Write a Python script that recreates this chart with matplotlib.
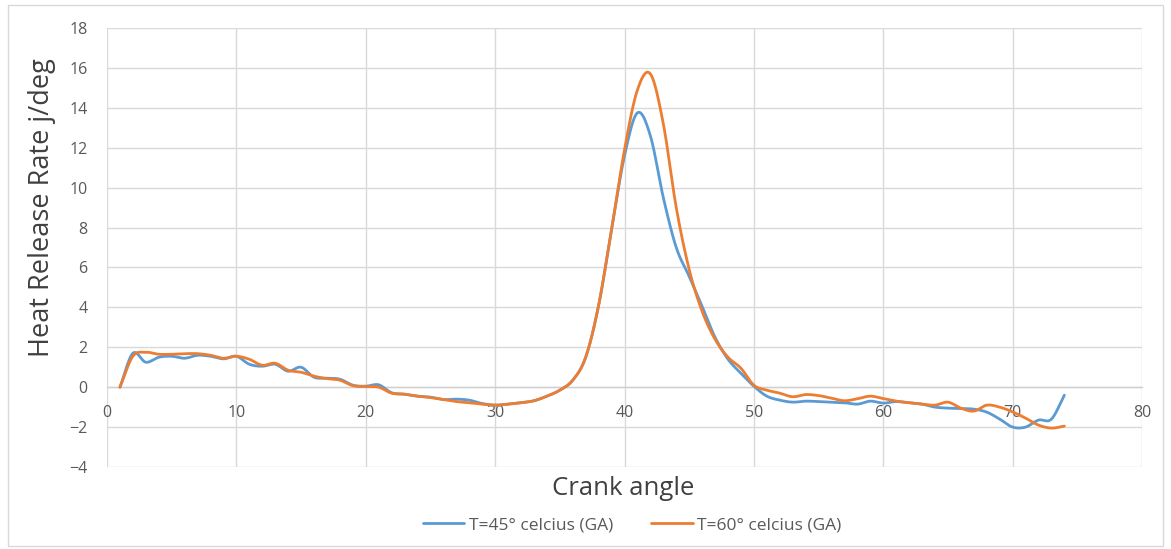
import numpy as np
import matplotlib
matplotlib.use("Agg")
import matplotlib.pyplot as plt
from matplotlib.patches import Rectangle

# Crank angle (deg) and heat release rate (J/deg) for both intake temperatures
crank_angle = list(range(1, 75))

hrr_45 = [0, 1.7, 1.25, 1.5, 1.55, 1.45, 1.6, 1.55, 1.42, 1.55,
          1.15, 1.05, 1.15, 0.8, 1.0, 0.5, 0.45, 0.4, 0.1, 0.05,
          0.12, -0.28, -0.35, -0.45, -0.5, -0.62, -0.6, -0.65, -0.82, -0.9,
          -0.85, -0.78, -0.68, -0.45, -0.15, 0.35, 1.5, 4.1, 7.9, 11.6,
          13.75, 12.6, 9.5, 7.0, 5.55, 4.05, 2.5, 1.4, 0.7, 0.05,
          -0.45, -0.65, -0.75, -0.7, -0.72, -0.75, -0.78, -0.85, -0.7, -0.8,
          -0.72, -0.78, -0.85, -1.0, -1.05, -1.07, -1.1, -1.25, -1.6, -2.0,
          -2.0, -1.65, -1.6, -0.4]

hrr_60 = [0, 1.55, 1.75, 1.65, 1.65, 1.68, 1.68, 1.6, 1.45, 1.55,
          1.4, 1.1, 1.2, 0.85, 0.75, 0.55, 0.43, 0.35, 0.08, 0.03,
          0.0, -0.3, -0.35, -0.45, -0.52, -0.62, -0.72, -0.78, -0.85, -0.9,
          -0.85, -0.78, -0.68, -0.45, -0.15, 0.35, 1.5, 4.1, 7.9, 11.9,
          14.9, 15.7, 13.2, 9.0, 5.9, 3.8, 2.4, 1.5, 0.95, 0.1,
          -0.15, -0.3, -0.48, -0.37, -0.42, -0.55, -0.68, -0.58, -0.45, -0.57,
          -0.7, -0.78, -0.85, -0.9, -0.75, -1.05, -1.2, -0.9, -1.0, -1.24,
          -1.55, -1.9, -2.05, -1.95]

series_labels = ["T=45° celcius (GA)", "T=60° celcius (GA)"]
series_colors = ["#5B9BD5", "#ED7D31"]

x_ticks = list(range(0, 81, 10))
y_ticks = list(range(-4, 19, 2))


def smooth(x, y, n=12):
    """Catmull-Rom spline through the points (smoothed line rendering)."""
    x = np.asarray(x, float)
    y = np.asarray(y, float)
    px = np.concatenate([[2 * x[0] - x[1]], x, [2 * x[-1] - x[-2]]])
    py = np.concatenate([[2 * y[0] - y[1]], y, [2 * y[-1] - y[-2]]])
    t = np.linspace(0, 1, n, endpoint=False)
    xs, ys = [], []
    for i in range(1, len(px) - 2):
        for p, out in ((px, xs), (py, ys)):
            p0, p1, p2, p3 = p[i - 1], p[i], p[i + 1], p[i + 2]
            out.append(0.5 * (2 * p1 + (-p0 + p2) * t
                              + (2 * p0 - 5 * p1 + 4 * p2 - p3) * t ** 2
                              + (-p0 + 3 * p1 - 3 * p2 + p3) * t ** 3))
    xs.append([x[-1]])
    ys.append([y[-1]])
    return np.concatenate(xs), np.concatenate(ys)


plt.rcParams["font.family"] = ["Open Sans", "DejaVu Sans"]

W, H = 1171, 549
fig = plt.figure(figsize=(W / 100, H / 100), dpi=100)
fig.patch.set_facecolor("white")

# outer chart border
fig.patches.append(Rectangle((8 / W, 3 / H), 1155 / W, 541 / H,
                             transform=fig.transFigure, fill=False,
                             edgecolor="#d9d9d9", linewidth=1.0))

left, right, top, bottom = 107, 1142, 28, 467
ax = fig.add_axes([left / W, 1 - bottom / H, (right - left) / W, (bottom - top) / H])

for yv, c, lab in zip((hrr_45, hrr_60), series_colors, series_labels):
    sx, sy = smooth(crank_angle, yv)
    ax.plot(sx, sy, color=c, linewidth=2.0, label=lab, solid_capstyle="round", zorder=3)

ax.set_xlim(0, 80)
ax.set_ylim(-4, 18)
ax.set_xticks(x_ticks)
ax.set_yticks(y_ticks)
ax.grid(True, color="#d9d9d9", linewidth=1.0, zorder=0)
ax.set_axisbelow(True)

for s in ("top", "right", "left"):
    ax.spines[s].set_visible(False)
ax.spines["bottom"].set_position(("data", 0))
ax.spines["bottom"].set_color("#d0d0d0")
ax.spines["bottom"].set_linewidth(1.0)
ax.spines["bottom"].set_zorder(1)

ax.tick_params(axis="both", length=0, labelsize=11.5, labelcolor="#595959")
ax.tick_params(axis="x", pad=13)
ax.tick_params(axis="y", pad=14)

ax.set_xlabel("Crank angle", fontsize=18.5, color="#404040")
ax.xaxis.set_label_coords(0.4986, -0.050)
ax.xaxis.label.set_va("center")
ax.set_ylabel("Heat Release Rate j/deg", fontsize=19.5, color="#404040")
ax.yaxis.set_label_coords(-0.0628, 0.59)
ax.yaxis.label.set_va("center")

fig.legend(loc="center", bbox_to_anchor=(632 / W, 1 - 525 / H), ncol=2,
           frameon=False, fontsize=12.5, handlelength=2.4, handletextpad=0.25,
           columnspacing=2.2, labelcolor="#595959")

fig.savefig("out.png", dpi=100, facecolor="white")
